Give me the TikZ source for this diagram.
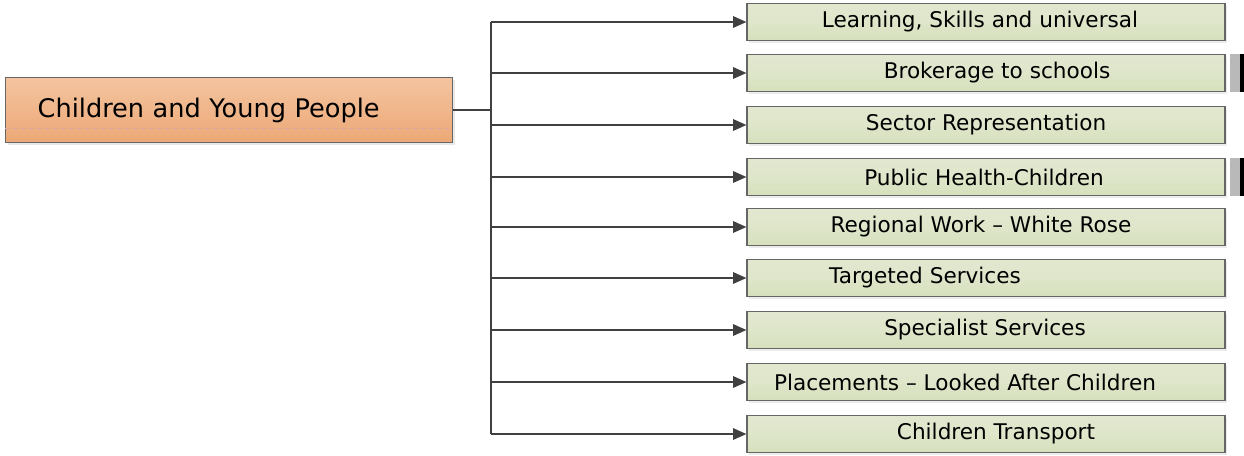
\documentclass[tikz,border=0pt]{standalone}
\usepackage{fontspec}
\setmainfont{DejaVu Sans}
\usetikzlibrary{arrows.meta,shadows}

\definecolor{linegray}{RGB}{64,64,64}
\definecolor{peachtop}{RGB}{244,196,160}
\definecolor{peachbot}{RGB}{236,168,118}
\definecolor{sagetop}{RGB}{226,232,208}
\definecolor{sagemid}{RGB}{214,224,188}

\begin{document}
\begin{tikzpicture}[x=0.75pt,y=-0.75pt,
  rootbox/.style={draw=linegray!80,line width=0.9pt,
    top color=peachtop,bottom color=peachbot,
    minimum width=335pt,minimum height=48.5pt,
    text width=287pt,inner xsep=24pt,align=left,
    font=\fontsize{19.2}{22}\selectfont,
    drop shadow={shadow xshift=2pt,shadow yshift=-2pt,fill=gray!35}},
  leafbox/.style={draw=linegray!80,line width=0.8pt,
    top color=sagetop,bottom color=sagemid,middle color=sagetop!70!sagemid,
    minimum width=358.5pt,minimum height=27.75pt,inner sep=0pt,
    drop shadow={shadow xshift=1.8pt,shadow yshift=-1.8pt,fill=gray!30}},
  leaftext/.style={font=\fontsize{16.2}{18}\selectfont,inner sep=0pt},
  link/.style={draw=linegray,line width=1.4pt},
  arrow/.style={link,-{Triangle[length=10pt,width=8.5pt]}},
  marker/.style={fill=gray!55,draw=none}]

\useasboundingbox (0,0) rectangle (1244,455);

\node[rootbox] (root) at (229,110) {Children and Young People};
\draw[dashed,draw=red!40!gray!50,line width=0.9pt]
  ([yshift=-14pt]root.west) -- ([yshift=-14pt]root.east);

\foreach \i/\y/\dx/\txt in {
  1/22/-6/{Learning, Skills and universal},
  2/73/11/{Brokerage to schools},
  3/125/0/{Sector Representation},
  4/177/-2/{Public Health-Children},
  5/227/-5/{Regional Work – White Rose},
  6/278/-61/{Targeted Services},
  7/330/-1/{Specialist Services},
  8/382/-21/{Placements – Looked After Children},
  9/434/10/{Children Transport}}
{
  \node[leafbox] (b\i) at (986,\y) {};
  \node[leaftext] (t\i) at ([xshift=\dx*0.75pt]b\i.center) {\txt};
}

\coordinate (bus) at (491,110);
\draw[link] (root.east) -- (bus);
\draw[link] (bus |- b1.west) -- (bus |- b9.west);
\foreach \i in {1,...,9}
  \draw[arrow] (bus |- b\i.west) -- (b\i.west);

% side tabs
\foreach \i in {2,4}{
  \fill[marker] ([xshift=3pt,yshift=14pt]b\i.east) rectangle ([xshift=14pt,yshift=-14pt]b\i.east);
  \fill[black] ([xshift=11pt,yshift=14pt]b\i.east) rectangle ([xshift=14pt,yshift=-14pt]b\i.east);
}
\end{tikzpicture}
\end{document}
